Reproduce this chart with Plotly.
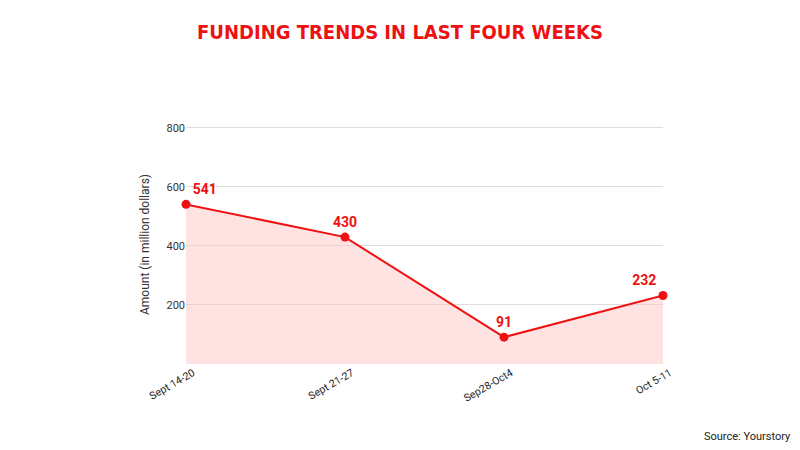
import plotly.graph_objects as go

weeks = ["Sept 14-20", "Sept 21-27", "Sep28-Oct4", "Oct 5-11"]
amounts = [541, 430, 91, 232]
y_ticks = [200, 400, 600, 800]

fig = go.Figure()
fig.add_trace(go.Scatter(
    x=list(range(len(weeks))), y=amounts,
    mode="lines+markers+text",
    line=dict(color="#ee1111", width=2),
    marker=dict(color="#ee1111", size=9),
    fill="tozeroy", fillcolor="rgba(255,200,200,0.5)",
    text=[str(v) for v in amounts],
    textposition=["top right", "top center", "top center", "top left"],
    textfont=dict(family="Roboto, Arial", size=14, color="#ee1111", weight="bold"),
    cliponaxis=False,
    hoverinfo="skip",
))

fig.update_layout(
    width=800, height=450,
    margin=dict(l=186, r=137, t=125, b=86),
    paper_bgcolor="white", plot_bgcolor="white",
    showlegend=False,
    title=dict(text="FUNDING TRENDS IN LAST FOUR WEEKS", x=0.5, xanchor="center",
               y=0.93, yanchor="middle",
               font=dict(family="DejaVu Sans Condensed, Roboto", size=20, color="#ee1111", weight="bold")),
    xaxis=dict(range=[0, 3], tickvals=list(range(len(weeks))), ticktext=weeks,
               tickangle=-30, showgrid=False, zeroline=False, showline=False,
               ticklabelshift=7,
               tickfont=dict(family="Roboto, Arial", size=10.5, color="#222")),
    yaxis=dict(range=[0, 810], tickvals=y_ticks, showgrid=True, gridcolor="#dddddd",
               zeroline=False, showline=False,
               title=dict(text="Amount (in million dollars)", font=dict(family="Roboto, Arial", size=12, color="#333"), standoff=14),
               tickfont=dict(family="Roboto, Arial", size=11, color="#333")),
    annotations=[dict(text="Source: Yourstory", xref="paper", yref="paper", x=1.273, y=-0.302,
                      xanchor="right", yanchor="middle", showarrow=False,
                      font=dict(family="Roboto, Arial", size=11, color="#222"))],
)
fig.write_html("out.html")
